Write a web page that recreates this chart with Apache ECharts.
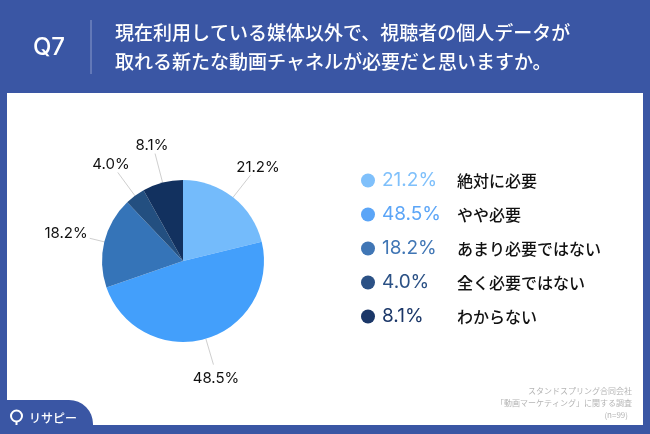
<!DOCTYPE html>
<html>
<head>
    <meta charset="utf-8">
    <title>Q7</title>
    <script src="https://cdn.jsdelivr.net/npm/echarts@6/dist/echarts.min.js"></script>
    <style>
        html, body { margin: 0; padding: 0; background: #3a56a4; }
        #chart { width: 650px; height: 434px; }
    </style>
</head>
<body>
<div id="chart"></div>
<script>
    const categories = ['絶対に必要', 'やや必要', 'あまり必要ではない', '全く必要ではない', 'わからない'];
    const values = [21.2, 48.5, 18.2, 4.0, 8.1];
    const colors = ['#74bbfb', '#439ffb', '#3574b8', '#234f80', '#12315f'];
    const legendColors = ['#7fc0fb', '#5ba5f7', '#4076b5', '#2b5185', '#1b3768'];
    const titleLines = ['現在利用している媒体以外で、視聴者の個人データが', '取れる新たな動画チャネルが必要だと思いますか。'];
    const sourceLines = ['スタンドスプリング合同会社', '「動画マーケティング」に関する調査', '(n=99)'];
    // where the outside labels sit in the picture, and how long their lines are
    const labelSpots = [[258, 167], [216, 378], [66, 233], [111, 164], [152, 145]];
    const lineLengths = [28, 27, 15, 29, 30];

    const font = '"Noto Sans CJK JP", "Noto Sans", sans-serif';
    const latin = 'Inter, "Noto Sans CJK JP", sans-serif';
    const chart = echarts.init(document.getElementById('chart'));

    const rich = {
        s: { width: 2 },
        n: { fontFamily: font, fontSize: 16, fontWeight: 500, color: '#111', lineHeight: 20 }
    };
    legendColors.forEach((c, i) => {
        rich['p' + i] = { fontFamily: latin, fontSize: 19, color: c, width: 75, lineHeight: 20 };
    });

    chart.setOption({
        animation: false,
        backgroundColor: '#3a56a4',
        legend: {
            orient: 'vertical',
            left: 356,
            top: 166,
            icon: 'circle',
            itemWidth: 14,
            itemHeight: 14,
            itemGap: 15,
            selectedMode: false,
            data: categories.map((c, i) => ({ name: c, itemStyle: { color: legendColors[i] } })),
            formatter: name => {
                const i = categories.indexOf(name);
                return `{s|}{p${i}|${values[i].toFixed(1)}%}{n|${name}}`;
            },
            textStyle: { rich: rich }
        },
        series: [{
            type: 'pie',
            center: [183, 261],
            radius: [0, 81],
            startAngle: 90,
            clockwise: true,
            data: categories.map((c, i) => ({
                name: c,
                value: values[i],
                itemStyle: { color: colors[i] },
                labelLine: { length: lineLengths[i], length2: 0 }
            })),
            label: {
                formatter: p => p.value.toFixed(1) + '%',
                fontFamily: latin,
                fontSize: 15,
                color: '#111'
            },
            labelLine: {
                lineStyle: { color: '#cfcfcf', width: 1 }
            },
            labelLayout: p => ({
                dx: labelSpots[p.dataIndex][0] - (p.labelRect.x + p.labelRect.width / 2),
                dy: labelSpots[p.dataIndex][1] - (p.labelRect.y + p.labelRect.height / 2)
            })
        }],
        graphic: [
            { type: 'rect', z: -1, shape: { x: 7, y: 93, width: 636, height: 332 }, style: { fill: '#fff' } },
            { type: 'rect', z: -1, shape: { x: 0, y: 400, width: 93, height: 34, r: [0, 24, 0, 0] }, style: { fill: '#3a56a4' } },
            { type: 'line', shape: { x1: 91, y1: 20, x2: 91, y2: 74 }, style: { stroke: '#8b9bcb', lineWidth: 1 } },
            { type: 'text', x: 49, y: 48, style: { text: 'Q7', fill: '#fff', font: '500 24px ' + latin, align: 'center', verticalAlign: 'middle' } },
            { type: 'text', x: 115, y: 33, style: { text: titleLines[0], fill: '#fff', font: '500 19px ' + font, verticalAlign: 'middle' } },
            { type: 'text', x: 115, y: 62, style: { text: titleLines[1], fill: '#fff', font: '500 19px ' + font, verticalAlign: 'middle' } },
            { type: 'text', x: 632, y: 391, style: { text: sourceLines[0], fill: '#b5b5b5', font: '8px ' + font, align: 'right', verticalAlign: 'middle' } },
            { type: 'text', x: 632, y: 403, style: { text: sourceLines[1], fill: '#b5b5b5', font: '8px ' + font, align: 'right', verticalAlign: 'middle' } },
            { type: 'text', x: 628, y: 415, style: { text: sourceLines[2], fill: '#b5b5b5', font: '8px ' + font, align: 'right', verticalAlign: 'middle' } },
            { type: 'text', x: 29, y: 418, style: { text: 'リサピー', fill: '#fff', font: '500 12px ' + font, verticalAlign: 'middle' } },
            { type: 'circle', shape: { cx: 16.5, cy: 416, r: 5.5 }, style: { fill: 'none', stroke: '#fff', lineWidth: 2 } },
            { type: 'line', shape: { x1: 16.5, y1: 422, x2: 16.5, y2: 425 }, style: { stroke: '#fff', lineWidth: 2 } }
        ]
    });
</script>
</body>
</html>
